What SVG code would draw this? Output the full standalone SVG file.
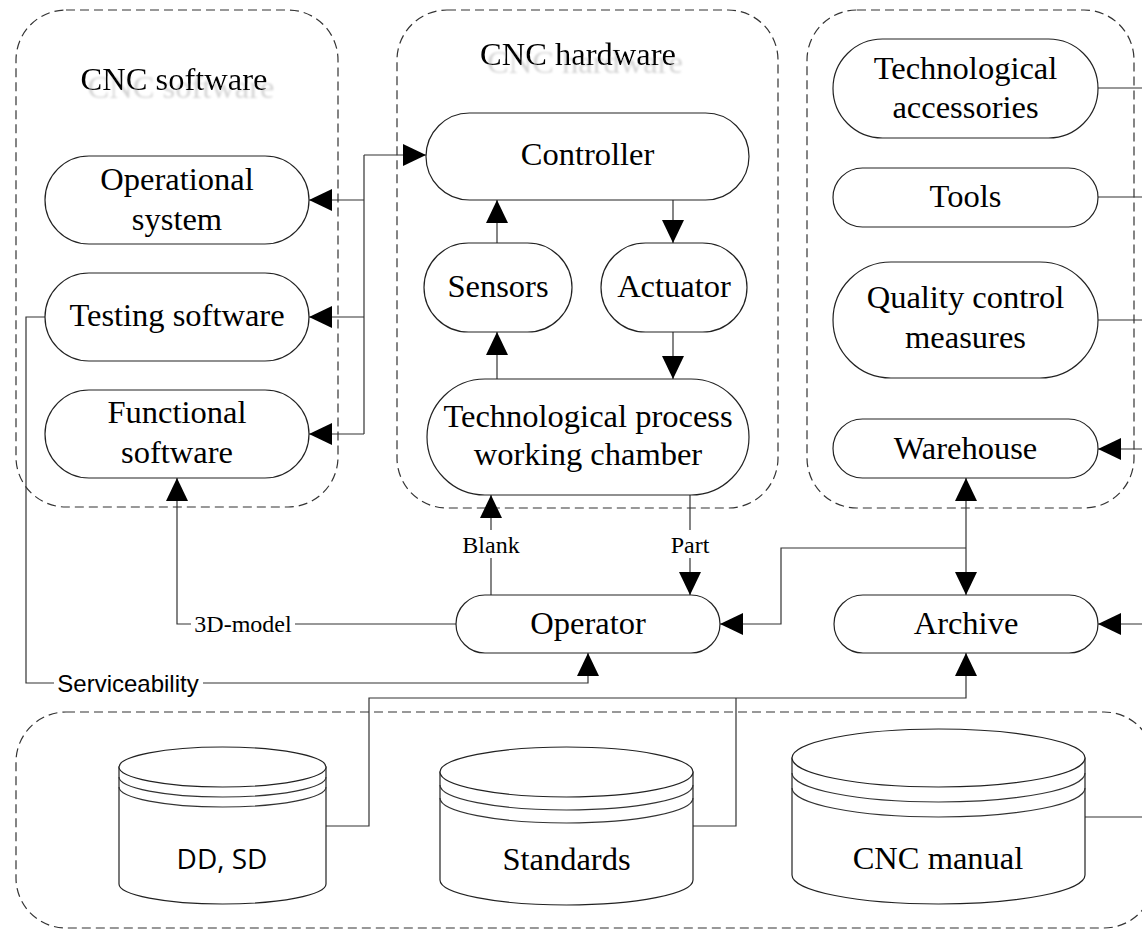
<svg xmlns="http://www.w3.org/2000/svg" width="1142" height="931" viewBox="0 0 1142 931">
<style>
.grp{fill:none;stroke:#333;stroke-width:1.2;stroke-dasharray:9 5}
.nd{fill:#fff;stroke:#222;stroke-width:1.2}
.t{font-family:"Liberation Serif","Times New Roman",serif;font-size:32.5px;fill:#000;text-anchor:middle}
.ttl{font-family:"Liberation Serif","Times New Roman",serif;font-size:32.5px;fill:#000;text-anchor:middle;filter:url(#ghost)}
.lb{font-family:"Liberation Serif","Times New Roman",serif;font-size:24px;fill:#000;text-anchor:middle}
.lbs{font-family:"Liberation Sans",Arial,sans-serif;font-size:24px;fill:#000;text-anchor:middle}
.dd{font-family:"Open Sans","Noto Sans",sans-serif;font-size:28px;fill:#000;text-anchor:middle}
.c{fill:none;stroke:#333;stroke-width:1.2}
.a{marker-end:url(#ah)}
.bg{fill:#fff;stroke:none}
</style>
<defs>
<marker id="ah" viewBox="0 0 23 22" refX="23" refY="11" markerWidth="23" markerHeight="22" markerUnits="userSpaceOnUse" orient="auto-start-reverse">
<path d="M0,0 L23,11 L0,22 z" fill="#000"/>
</marker>
<filter id="ghost" x="-10%" y="-30%" width="130%" height="180%">
<feOffset in="SourceAlpha" dx="7" dy="8" result="o"/>
<feGaussianBlur in="o" stdDeviation="0.8" result="b"/>
<feFlood flood-color="#d4d4d4"/>
<feComposite in2="b" operator="in" result="s"/>
<feMerge><feMergeNode in="s"/><feMergeNode in="SourceGraphic"/></feMerge>
</filter>
</defs>
<rect width="1142" height="931" fill="#fff"/>

<g id="groups">
<rect id="grp-software" class="grp" x="16" y="10" width="322" height="497" rx="50"/>
<rect id="grp-hardware" class="grp" x="397" y="10" width="381" height="498" rx="50"/>
<rect id="grp-resources" class="grp" x="807" y="10" width="327" height="498" rx="50"/>
<rect id="grp-docs" class="grp" x="16" y="712" width="1138" height="216" rx="50"/>
<text class="ttl" x="174" y="90">CNC software</text>
<text class="ttl" x="578" y="65">CNC hardware</text>
</g>

<g id="connectors">
<!-- controller bus -->
<polyline class="c a" points="364,155 426,155"/>
<polyline class="c" points="364,155 364,434"/>
<polyline class="c a" points="364,200 309,200"/>
<polyline class="c a" points="364,317 309,317"/>
<polyline class="c a" points="364,434 309,434"/>
<!-- hardware internals -->
<polyline class="c a" points="497,243 497,200"/>
<polyline class="c a" points="673,200 673,243"/>
<polyline class="c a" points="497,379 497,332"/>
<polyline class="c a" points="673,332 673,379"/>
<!-- blank / part -->
<polyline class="c a" points="491,595 491,495"/>
<polyline class="c a" points="690,495 690,595"/>
<!-- 3D model -->
<polyline class="c a" points="456,624 177,624 177,478"/>
<!-- serviceability -->
<polyline class="c a" points="45,317 26,317 26,683 588,683 588,653"/>
<!-- right side -->
<polyline class="c" points="1098,88 1142,88"/>
<polyline class="c" points="1098,197 1142,197"/>
<polyline class="c" points="1098,320 1142,320"/>
<polyline class="c a" points="1142,449 1098,449"/>
<polyline class="c a" points="1142,624 1098,624"/>
<polyline class="c" points="1085,817 1142,817"/>
<!-- warehouse / archive -->
<polyline class="c a" points="966,595 966,478" style="marker-start:url(#ah)"/>
<polyline class="c a" points="966,548 781,548 781,624 720,624"/>
<!-- documents to archive -->
<polyline class="c a" points="326,826 369,826 369,698 966,698 966,653"/>
<polyline class="c" points="693,826 736,826 736,698"/>
<!-- labels -->
<rect class="bg" x="462" y="530" width="58" height="28"/>
<text class="lb" x="491" y="553">Blank</text>
<rect class="bg" x="670" y="530" width="41" height="28"/>
<text class="lb" x="690" y="553">Part</text>
<rect class="bg" x="191" y="610" width="104" height="28"/>
<text class="lb" x="243" y="632">3D-model</text>
<rect class="bg" x="54" y="669" width="149" height="30"/>
<text class="lbs" x="128" y="692">Serviceability</text>
</g>

<g id="n-opsys"><rect class="nd" x="45" y="156" width="264" height="88" rx="44"/><text class="t" x="177" y="190">Operational</text><text class="t" x="177" y="230">system</text></g>
<g id="n-testing"><rect class="nd" x="45" y="273" width="264" height="88" rx="44"/><text class="t" x="177" y="326">Testing software</text></g>
<g id="n-functional"><rect class="nd" x="45" y="390" width="264" height="88" rx="44"/><text class="t" x="177" y="423">Functional</text><text class="t" x="177" y="463">software</text></g>
<g id="n-controller"><rect class="nd" x="426" y="113" width="323" height="87" rx="43.5"/><text class="t" x="587.5" y="165">Controller</text></g>
<g id="n-sensors"><rect class="nd" x="424" y="243" width="148" height="89" rx="44.5"/><text class="t" x="498" y="297">Sensors</text></g>
<g id="n-actuator"><rect class="nd" x="601" y="243" width="146" height="89" rx="44.5"/><text class="t" x="674" y="297">Actuator</text></g>
<g id="n-techproc"><rect class="nd" x="427" y="379" width="322" height="116" rx="58"/><text class="t" x="588" y="427">Technological process</text><text class="t" x="588" y="465">working chamber</text></g>
<g id="n-techacc"><rect class="nd" x="833" y="39" width="265" height="99" rx="49.5"/><text class="t" x="965.5" y="79">Technological</text><text class="t" x="965.5" y="118">accessories</text></g>
<g id="n-tools"><rect class="nd" x="833" y="168" width="265" height="59" rx="29.5"/><text class="t" x="965.5" y="207">Tools</text></g>
<g id="n-quality"><rect class="nd" x="833" y="262" width="265" height="116" rx="58"/><text class="t" x="965.5" y="308">Quality control</text><text class="t" x="965.5" y="348">measures</text></g>
<g id="n-warehouse"><rect class="nd" x="833" y="419" width="265" height="59" rx="29.5"/><text class="t" x="965.5" y="459">Warehouse</text></g>
<g id="n-operator"><rect class="nd" x="456" y="595" width="264" height="58" rx="29"/><text class="t" x="588" y="634">Operator</text></g>
<g id="n-archive"><rect class="nd" x="834" y="595" width="264" height="58" rx="29"/><text class="t" x="966" y="634">Archive</text></g>

<g id="n-ddsd">
<path class="nd" d="M119,767 L119,884 A103.5,20 0 0 0 326,884 L326,767 Z"/>
<ellipse class="nd" cx="222.5" cy="767" rx="103.5" ry="20"/>
<path class="c" d="M119,777 A103.5,20 0 0 0 326,777 M119,787 A103.5,20 0 0 0 326,787"/>
<text class="dd" x="222" y="869">DD, SD</text>
</g>
<g id="n-standards">
<path class="nd" d="M440,772 L440,880 A126.5,25 0 0 0 693,880 L693,772 Z"/>
<ellipse class="nd" cx="566.5" cy="772" rx="126.5" ry="25"/>
<path class="c" d="M440,785 A126.5,25 0 0 0 693,785 M440,798 A126.5,25 0 0 0 693,798"/>
<text class="t" x="566.5" y="870">Standards</text>
</g>
<g id="n-manual">
<path class="nd" d="M792,758 L792,875 A146.5,29 0 0 0 1085,875 L1085,758 Z"/>
<ellipse class="nd" cx="938.5" cy="758" rx="146.5" ry="29"/>
<path class="c" d="M792,773 A146.5,29 0 0 0 1085,773 M792,788 A146.5,29 0 0 0 1085,788"/>
<text class="t" x="938" y="869">CNC manual</text>
</g>
</svg>
